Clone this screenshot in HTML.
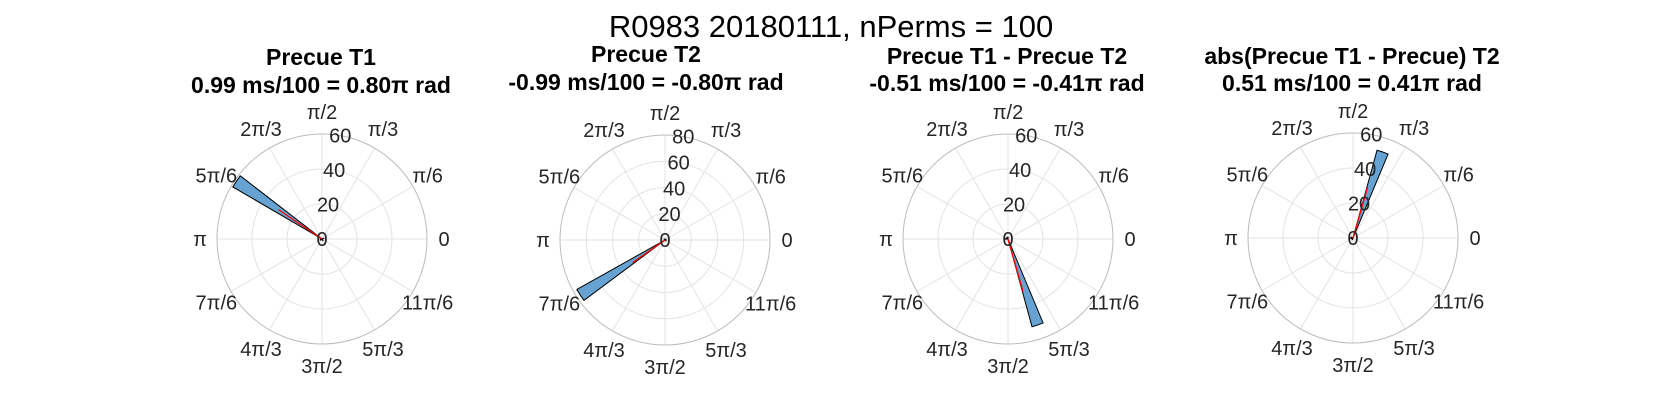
<!DOCTYPE html>
<html><head><meta charset="utf-8"><style>
html,body{margin:0;padding:0;background:#fff;}
svg{display:block;font-family:"Liberation Sans",sans-serif;}
</style></head><body>
<svg id="fig" width="1667" height="417" viewBox="0 0 1667 417" xmlns="http://www.w3.org/2000/svg">
<text x="831" y="37" font-size="31" text-anchor="middle" fill="#000">R0983 20180111, nPerms = 100</text>
</svg>
<script>
// Panel data (bin center angles in degrees, counts), mean vector
const panelTitles = ["Precue T1", "Precue T2", "Precue T1 - Precue T2", "abs(Precue T1 - Precue) T2"];
const panelSubtitles = ["0.99 ms/100 = 0.80\u03c0 rad", "-0.99 ms/100 = -0.80\u03c0 rad", "-0.51 ms/100 = -0.41\u03c0 rad", "0.51 ms/100 = 0.41\u03c0 rad"];
const rMax = [60, 80, 60, 60];
const rTicks1 = [0, 20, 40, 60];
const rTicks2 = [0, 20, 40, 60, 80];
const binAngles1 = [146, 180, 220, 300, 20];
const binCounts1 = [59, 1, 1, 1, 1];
const binAngles2 = [213, 330, 40, 130];
const binCounts2 = [77, 1, 1, 1];
const binAngles3 = [289, 180, 150, 120, 90];
const binCounts3 = [52, 2, 1, 1, 1];
const binAngles4 = [71, 180, 200, 160, 250];
const binCounts4 = [52, 2, 1, 1, 1];
const meanAngles = [146, 215, 286, 74];
const meanLengths = [30, 30, 31, 30];
const thetaLabels = ["0","\u03c0/6","\u03c0/3","\u03c0/2","2\u03c0/3","5\u03c0/6","\u03c0","7\u03c0/6","4\u03c0/3","3\u03c0/2","5\u03c0/3","11\u03c0/6"];

const svg = document.getElementById('fig');
const NS = 'http://www.w3.org/2000/svg';
const centersX = [322, 665, 1008, 1353];
const centersY = [239, 240, 239, 238];
const titleX = [321, 646, 1007, 1352];
const titleY1 = [65, 62, 64, 64];
const titleY2 = [93, 90, 91, 91];
const R = 105;
const binWidth = 7.4;
const allAngles = [binAngles1, binAngles2, binAngles3, binAngles4];
const allCounts = [binCounts1, binCounts2, binCounts3, binCounts4];

function mk(tag, attrs, parent) {
  const e = document.createElementNS(NS, tag);
  for (const k in attrs) e.setAttribute(k, attrs[k]);
  parent.appendChild(e);
  return e;
}

for (let p = 0; p < 4; p++) {
  const cx = centersX[p], cy = centersY[p], max = rMax[p];
  const g = mk('g', {}, svg);
  
  
  const rs = v => v / max * R;
  const pt = (deg, r) => [cx + r * Math.cos(deg * Math.PI / 180), cy - r * Math.sin(deg * Math.PI / 180)];

  const t1 = mk('text', {x: titleX[p], y: titleY1[p], 'font-size': 23, 'font-weight': 'bold', 'text-anchor': 'middle'}, g);
  t1.textContent = panelTitles[p];
  
  
  const t2 = mk('text', {x: titleX[p], y: titleY2[p], 'font-size': 23, 'font-weight': 'bold', 'text-anchor': 'middle'}, g);
  t2.textContent = panelSubtitles[p];
  
  

  for (let i = 0; i < 12; i++) {
    const [x, y] = pt(i * 30, R);
    const l = mk('line', {x1: cx, y1: cy, x2: x, y2: y, stroke: '#e3e3e3', 'stroke-width': 1}, g);
    
    
  }
  const ticks = p === 1 ? rTicks2 : rTicks1;
  ticks.forEach(v => {
    if (v === 0) return;
    const c = mk('circle', {cx: cx, cy: cy, r: rs(v), fill: 'none', stroke: v === max ? '#bcbcbc' : '#e3e3e3', 'stroke-width': 1}, g);
    
    
  });
  const angs = allAngles[p], cnts = allCounts[p];
  for (let i = 0; i < angs.length; i++) {
    const r = rs(cnts[i]);
    const [x1, y1] = pt(angs[i] - binWidth / 2, r);
    const [x2, y2] = pt(angs[i] + binWidth / 2, r);
    const b = mk('path', {d: `M${cx},${cy} L${x1},${y1} A${r},${r} 0 0 0 ${x2},${y2} Z`, fill: '#66a3d2', stroke: '#000', 'stroke-width': 1}, g);
    
    
  }
  const [mx, my] = pt(meanAngles[p], rs(meanLengths[p]));
  const ml = mk('line', {x1: cx, y1: cy, x2: mx, y2: my, stroke: '#ff0000', 'stroke-width': 1.3}, g);
  
  
  ticks.forEach(v => {
    const [x, y] = pt(80, rs(v));
    const t = mk('text', {x: x, y: y + 7, 'font-size': 20, 'text-anchor': 'middle', fill: '#262626'}, g);
    t.textContent = String(v);
    
    
  });
  for (let i = 0; i < 12; i++) {
    const a = i * 30 * Math.PI / 180;
    const x = cx + Math.cos(a) * (R + 17);
    const y = cy - Math.sin(a) * (R + 22);
    const t = mk('text', {x: x, y: y + 7, 'font-size': 20, 'text-anchor': 'middle', fill: '#262626'}, g);
    t.textContent = thetaLabels[i];
    
    
  }
}
</script>
</body></html>
